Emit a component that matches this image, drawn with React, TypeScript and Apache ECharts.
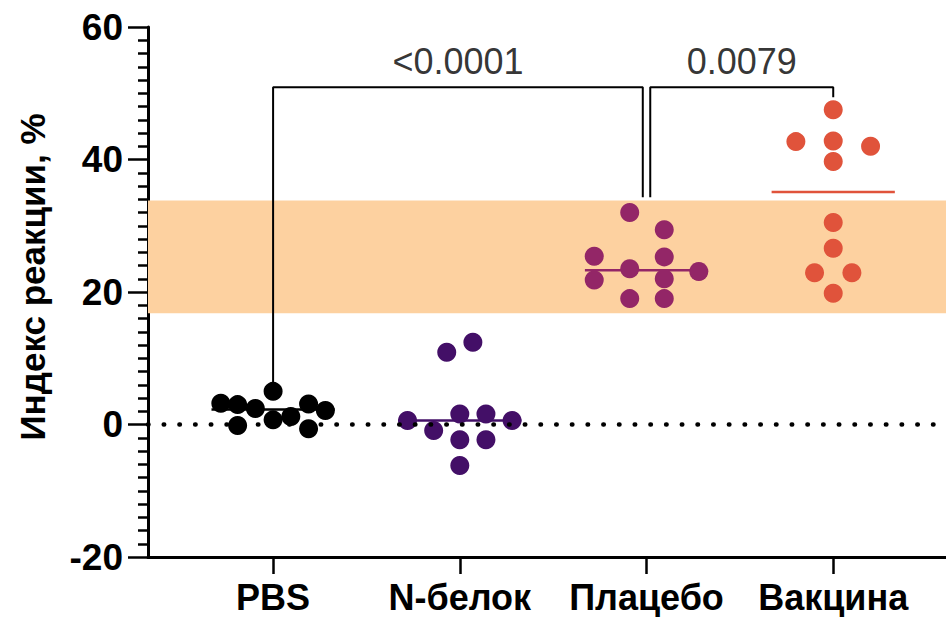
import React, { useEffect, useRef } from "react";
import * as echarts from "echarts";

const categories = ["PBS", "N-белок", "Плацебо", "Вакцина"];
const colors = ["#000000", "#430F67", "#932667", "#E0533B"];

const pbsValues = [3.2, 3.0, -0.15, 2.4, 5.0, 0.7, 1.2, 3.1, -0.65, 2.1];
const pbsJitter = [-0.28, -0.19, -0.19, -0.095, 0, 0, 0.095, 0.19, 0.19, 0.28];
const nValues = [0.6, -0.9, 1.6, -2.3, -6.2, 1.6, -2.3, 0.6, 10.9, 12.4];
const nJitter = [-0.28, -0.14, 0, 0, 0, 0.14, 0.14, 0.28, -0.07, 0.07];
const placeboValues = [32.0, 29.4, 25.4, 25.3, 23.5, 23.1, 21.8, 22.0, 19.0, 19.0];
const placeboJitter = [-0.09, 0.095, -0.28, 0.095, -0.09, 0.28, -0.28, 0.095, -0.09, 0.095];
const vaccineValues = [30.5, 26.6, 22.9, 22.9, 19.8, 47.5, 42.7, 42.8, 42.0, 39.7];
const vaccineJitter = [0, 0, -0.1, 0.1, 0, 0, -0.2, 0, 0.2, 0];

const groupValues = [pbsValues, nValues, placeboValues, vaccineValues];
const groupJitter = [pbsJitter, nJitter, placeboJitter, vaccineJitter];

const yTicks = [-20, 0, 20, 40, 60];
const band = [16.8, 33.8];
const medianHalfWidth = 0.33;

// significance brackets
const brackets = [
  { from: 0, to: 1.98, leftBottom: 5.9, rightBottom: 34.3, top: 50.9, label: "<0.0001" },
  { from: 2.02, to: 3, leftBottom: 34.3, rightBottom: 49.4, top: 50.9, label: "0.0079" },
];
const labelY = 54.8;

function median(arr: number[]) {
  const s = [...arr].sort((a, b) => a - b);
  const m = Math.floor(s.length / 2);
  return s.length % 2 ? s[m] : (s[m - 1] + s[m]) / 2;
}

const FONT = "'Liberation Sans', Arial, Helvetica, sans-serif";

export default function App() {
  const ref = useRef<HTMLDivElement>(null);
  useEffect(() => {
    if (!ref.current) return;
    const chart = echarts.init(ref.current, null, { renderer: "svg" });

    const series: any[] = [];

    series.push({
      type: "line",
      data: [],
      silent: true,
      z: 1,
      markArea: {
        silent: true,
        itemStyle: { color: "#FDD1A0" },
        data: [[{ yAxis: band[0] }, { yAxis: band[1] }]],
      },
      markLine: {
        silent: true,
        symbol: ["none", "none"],
        label: { show: false },
        lineStyle: { color: "#000", width: 4.5, type: [0.5, 15.2], cap: "round" },
        data: [{ yAxis: 0 }],
      },
    });

    brackets.forEach((b) => {
      series.push({
        type: "line",
        z: 2,
        silent: true,
        symbol: "none",
        lineStyle: { color: "#000", width: 2 },
        data: [
          [b.from, b.leftBottom],
          [b.from, b.top],
          [b.to, b.top],
          [b.to, b.rightBottom],
        ],
      });
    });

    series.push({
      type: "scatter",
      z: 5,
      silent: true,
      symbolSize: 0,
      data: brackets.map((b) => ({
        value: [(b.from + b.to) / 2, labelY],
        label: {
          show: true,
          position: "inside",
          formatter: b.label,
          fontSize: 36,
          fontFamily: FONT,
          color: "#000",
        },
      })),
    });

    groupValues.forEach((vals, i) => {
      const m = median(vals);
      series.push({
        type: "line",
        z: 3,
        silent: true,
        symbol: "none",
        lineStyle: { color: colors[i], width: 2.5 },
        data: [
          [i - medianHalfWidth, m],
          [i + medianHalfWidth, m],
        ],
      });
    });

    groupValues.forEach((vals, i) => {
      series.push({
        type: "scatter",
        name: categories[i],
        z: 4,
        symbolSize: 19,
        itemStyle: { color: colors[i], opacity: 1 },
        data: vals.map((v, k) => [i + groupJitter[i][k], v]),
      });
    });

    chart.setOption({
      animation: false,
      grid: { left: 148, right: 0, top: 27, bottom: 60, containLabel: false },
      xAxis: {
        type: "value",
        min: -0.67,
        max: 3.604,
        splitLine: { show: false },
        axisLine: { show: true, onZero: false, lineStyle: { color: "#000", width: 3 } },
        axisTick: {
          show: true,
          length: 17,
          customValues: [0, 1, 2, 3],
          lineStyle: { color: "#000", width: 2.5 },
        },
        axisLabel: {
          show: true,
          customValues: [0, 1, 2, 3],
          formatter: (v: number) => categories[Math.round(v)] ?? "",
          fontSize: 36,
          fontWeight: "bold",
          fontFamily: FONT,
          color: "#000",
          margin: 22,
        },
      },
      yAxis: {
        type: "value",
        min: yTicks[0],
        max: yTicks[yTicks.length - 1],
        interval: 20,
        name: "Индекс реакции, %",
        nameLocation: "middle",
        nameGap: 98,
        nameTextStyle: {
          fontSize: 35,
          fontWeight: "bold",
          fontFamily: FONT,
          color: "#000",
          padding: [0, 0, 0, 30],
        },
        splitLine: { show: false },
        axisLine: { show: true, onZero: false, lineStyle: { color: "#000", width: 3 } },
        axisTick: { show: true, length: 20, lineStyle: { color: "#000", width: 2.5 } },
        minorTick: { show: true, splitNumber: 10, length: 10, lineStyle: { color: "#000", width: 2.5 } },
        minorSplitLine: { show: false },
        axisLabel: {
          fontSize: 37,
          fontWeight: "bold",
          fontFamily: FONT,
          color: "#000",
          margin: 25,
        },
      },
      series,
    });

    return () => chart.dispose();
  }, []);

  return (
    <div
      ref={ref}
      style={{ position: "fixed", left: 0, top: 0, width: 946, height: 617, background: "#fff" }}
    />
  );
}
